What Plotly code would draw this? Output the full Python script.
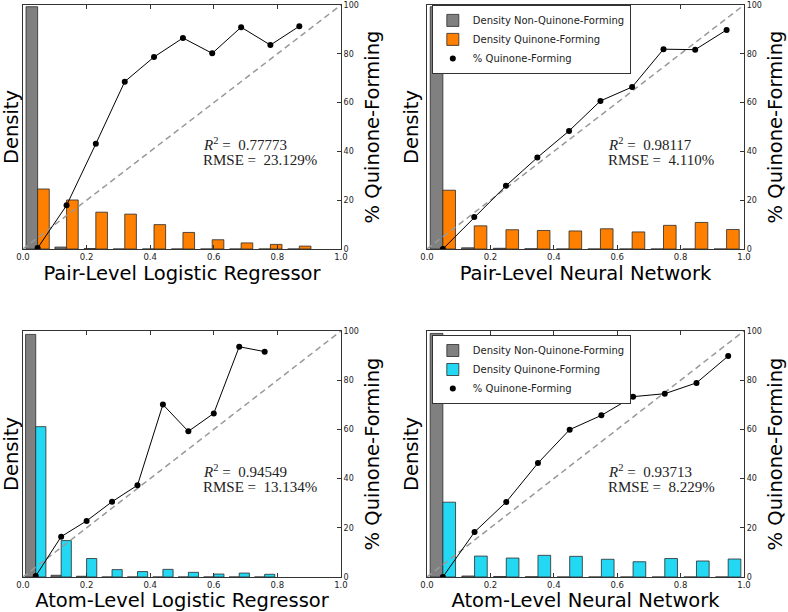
import plotly.graph_objects as go

# ---------------- data ----------------
panel_titles = ["Pair-Level Logistic Regressor", "Pair-Level Neural Network",
                "Atom-Level Logistic Regressor", "Atom-Level Neural Network"]
r2_values = ["0.77773", "0.98117", "0.94549", "0.93713"]
rmse_values = ["23.129%", "4.110%", "13.134%", "8.229%"]

centers_pair_lr = [0.046, 0.137, 0.229, 0.320, 0.412, 0.503, 0.595, 0.686, 0.778, 0.869]
centers_pair_nn = [0.050, 0.149, 0.249, 0.348, 0.448, 0.547, 0.647, 0.746, 0.846, 0.945]
centers_atom_lr = [0.04, 0.12, 0.20, 0.28, 0.36, 0.44, 0.52, 0.60, 0.68, 0.76]
centers_atom_nn = [0.05, 0.15, 0.25, 0.35, 0.45, 0.55, 0.65, 0.75, 0.85, 0.95]

non_quinone_pair_lr = [99.3, 0.8, 0.2, 0, 0, 0, 0, 0, 0, 0]
non_quinone_pair_nn = [99.3, 0.5, 0.3, 0.1, 0, 0, 0, 0, 0, 0]
non_quinone_atom_lr = [98.6, 0.7, 0.3, 0, 0, 0, 0, 0, 0, 0]
non_quinone_atom_nn = [99.0, 0.4, 0.2, 0.1, 0, 0, 0, 0, 0, 0]

quinone_pair_lr = [24.6, 20.1, 15.1, 14.3, 10.0, 6.8, 3.8, 2.5, 1.9, 1.2]
quinone_pair_nn = [24.1, 9.5, 7.9, 7.6, 7.4, 8.3, 7.0, 9.7, 10.9, 8.0]
quinone_atom_lr = [61.1, 14.8, 7.5, 3.0, 2.2, 3.1, 1.9, 1.2, 1.6, 1.1]
quinone_atom_nn = [30.4, 8.5, 7.7, 8.8, 8.4, 7.2, 6.2, 7.5, 6.5, 7.3]

pct_pair_lr = [0.4, 17.9, 43.1, 68.6, 78.7, 86.5, 80.2, 90.9, 83.6, 91.3]
pct_pair_nn = [0.0, 13.1, 25.9, 37.5, 48.4, 60.7, 66.4, 81.9, 81.7, 89.8]
pct_atom_lr = [0.4, 16.4, 22.8, 30.6, 37.3, 70.1, 59.2, 66.5, 93.6, 91.6]
pct_atom_nn = [0.0, 18.3, 30.5, 46.3, 59.9, 65.7, 73.3, 74.5, 78.9, 89.8]

diag_x = [0, 1]
diag_y = [0, 100]

panels = [
    (centers_pair_lr, non_quinone_pair_lr, quinone_pair_lr, pct_pair_lr),
    (centers_pair_nn, non_quinone_pair_nn, quinone_pair_nn, pct_pair_nn),
    (centers_atom_lr, non_quinone_atom_lr, quinone_atom_lr, pct_atom_lr),
    (centers_atom_nn, non_quinone_atom_nn, quinone_atom_nn, pct_atom_nn),
]

# ---------------- styles ----------------
GRAY = "#808080"
ORANGE = "#FF8000"
CYAN = "#22D8F2"
EDGE = "#2a2a2a"
AXC = "#333333"
bar_colors = [ORANGE, ORANGE, CYAN, CYAN]
legend_for = {1: "legend", 3: "legend2"}

xdom = [[0.0292, 0.4327], [0.5419, 0.9442]]
ydom = [[0.5931, 0.9918], [0.0572, 0.4592]]

SANS = "DejaVu Sans"
fig = go.Figure()
layout = {}
annotations = []

for i, (cx, gray_d, col_d, pct) in enumerate(panels):
    row, col = divmod(i, 2)
    xn = "x" if i == 0 else f"x{i+1}"
    yd = "y" if i == 0 else f"y{2*i+1}"
    yp = f"y{2*i+2}"
    w = (cx[-1] - cx[0]) / (len(cx) - 1)
    show = i in legend_for
    lg = legend_for.get(i, "legend")

    fig.add_trace(go.Bar(x=cx, y=gray_d, width=0.4 * w, offset=-0.4 * w,
                         marker=dict(color=GRAY, line=dict(color=EDGE, width=0.8)),
                         name="Density Non-Quinone-Forming", showlegend=show, legend=lg,
                         xaxis=xn, yaxis=yd))
    fig.add_trace(go.Bar(x=cx, y=col_d, width=0.4 * w, offset=0,
                         marker=dict(color=bar_colors[i], line=dict(color=EDGE, width=0.8)),
                         name="Density Quinone-Forming", showlegend=show, legend=lg,
                         xaxis=xn, yaxis=yd))
    fig.add_trace(go.Scatter(x=diag_x, y=diag_y, mode="lines",
                             line=dict(color="#999999", width=1.5, dash="6px,4px"),
                             showlegend=False, hoverinfo="skip", xaxis=xn, yaxis=yp))
    fig.add_trace(go.Scatter(x=cx, y=pct, mode="lines",
                             line=dict(color="black", width=1),
                             showlegend=False, xaxis=xn, yaxis=yp))
    fig.add_trace(go.Scatter(x=cx, y=pct, mode="markers",
                             marker=dict(color="black", size=6),
                             name="% Quinone-Forming", showlegend=show, legend=lg,
                             xaxis=xn, yaxis=yp))

    xkey = "xaxis" if i == 0 else f"xaxis{i+1}"
    ydkey = "yaxis" if i == 0 else f"yaxis{2*i+1}"
    ypkey = f"yaxis{2*i+2}"
    layout[xkey] = dict(domain=xdom[col], anchor=yd, range=[0, 1], automargin=False,
                        tickvals=[0, 0.2, 0.4, 0.6, 0.8, 1.0], tickformat=".1f",
                        ticks="inside", ticklen=4, tickcolor=AXC, mirror="ticks",
                        showline=True, linecolor=AXC, linewidth=1,
                        showgrid=False, zeroline=False,
                        tickfont=dict(family=SANS, size=8.5, color="#222"),
                        title=dict(text=panel_titles[i], standoff=3,
                                   font=dict(family=SANS, size=19.5, color="black")))
    layout[ydkey] = dict(domain=ydom[row], anchor=xn, range=[0, 100], automargin=False,
                         showticklabels=False, ticks="", showline=True, linecolor=AXC,
                         linewidth=1, showgrid=False, zeroline=False,
                         title=dict(text="Density", standoff=2,
                                    font=dict(family=SANS, size=19.5, color="black")))
    layout[ypkey] = dict(overlaying=yd, side="right", anchor=xn, range=[0, 100],
                         automargin=False,
                         tickvals=[0, 20, 40, 60, 80, 100], ticks="inside", ticklen=4,
                         tickcolor=AXC, showline=True, linecolor=AXC, linewidth=1,
                         showgrid=False, zeroline=False,
                         tickfont=dict(family=SANS, size=8, color="#222"),
                         title=dict(text="% Quinone-Forming", standoff=7,
                                    font=dict(family=SANS, size=19.5, color="black")))

    xa = 0.56 if col == 0 else 0.565
    annotations.append(dict(x=xa, y=42.9, xref=xn, yref=yp, xanchor="left", yanchor="middle",
                            text=f"<i>R</i><sup>2</sup> =  {r2_values[i]}", showarrow=False,
                            font=dict(family="Liberation Serif", size=15, color="#222")))
    annotations.append(dict(x=xa, y=36.4, xref=xn, yref=yp, xanchor="left", yanchor="middle",
                            text=f"RMSE =  {rmse_values[i]}", showarrow=False,
                            font=dict(family="Liberation Serif", size=15, color="#222")))

legend_style = dict(xanchor="left", yanchor="top", bgcolor="white", bordercolor=AXC,
                    borderwidth=1, font=dict(family=SANS, size=10, color="#222"),
                    tracegroupgap=0, itemwidth=30)
fig.update_layout(
    template="none",
    width=788, height=612,
    margin=dict(l=0, r=0, t=0, b=0),
    plot_bgcolor="white", paper_bgcolor="white",
    barmode="overlay",
    annotations=annotations,
    legend=dict(x=0.548, y=0.992, **legend_style),
    legend2=dict(x=0.548, y=0.4526, **legend_style),
    **layout,
)

fig.write_html("out.html",
               config={"displayModeBar": False},
               post_script="document.body.style.margin='0';document.body.style.overflow='hidden';")
